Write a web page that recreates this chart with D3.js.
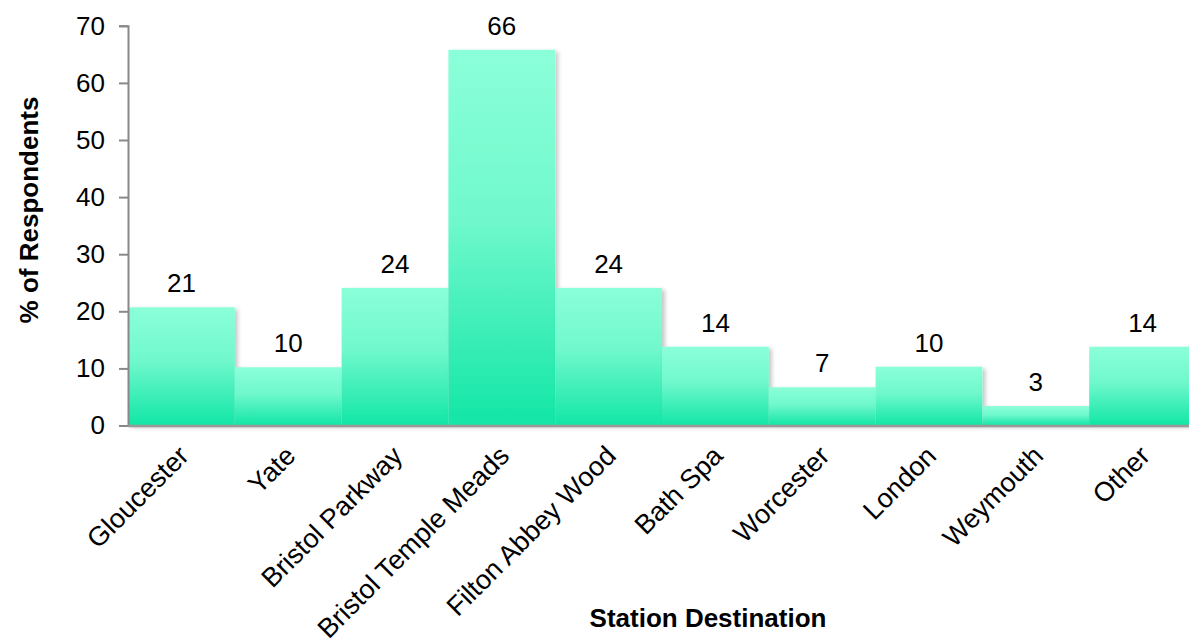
<!DOCTYPE html>
<html>
<head>
<meta charset="utf-8">
<script src="https://cdn.jsdelivr.net/npm/d3@7"></script>
<style>
  html, body { margin: 0; padding: 0; background: #fff; }
  svg { display: block; font-family: "Liberation Sans", Arial, sans-serif; }
</style>
</head>
<body>
<svg id="chart" width="1189" height="644"></svg>
<script>
// Station destinations and share of respondents (%)
const stations = ["Gloucester", "Yate", "Bristol Parkway", "Bristol Temple Meads",
  "Filton Abbey Wood", "Bath Spa", "Worcester", "London", "Weymouth", "Other"];
const percents = [20.7, 10.2, 24.1, 65.8, 24.1, 13.8, 6.7, 10.3, 3.4, 13.8];
const yTicks = [0, 10, 20, 30, 40, 50, 60, 70];

const svg = d3.select("#chart");
const plotLeft = 128, plotRight = 1196, plotTop = 25.8, plotBottom = 425.5;
const fontSize = 26;

const x = d3.scaleBand().domain(stations).range([plotLeft, plotRight]).padding(0);
const y = d3.scaleLinear().domain([0, 70]).range([plotBottom, plotTop]);

const defs = svg.append("defs");
const grad = defs.append("linearGradient")
  .attr("id", "barFill").attr("x1", 0).attr("y1", 0).attr("x2", 0).attr("y2", 1);
grad.append("stop").attr("offset", "0%").attr("stop-color", "#8bffd9");
grad.append("stop").attr("offset", "45%").attr("stop-color", "#70f8cc");
grad.append("stop").attr("offset", "100%").attr("stop-color", "#12e6a6");

const shadow = defs.append("filter").attr("id", "shade")
  .attr("x", "-10%").attr("y", "-10%").attr("width", "130%").attr("height", "130%");
shadow.append("feDropShadow").attr("dx", 3).attr("dy", 2).attr("stdDeviation", 2)
  .attr("flood-color", "#000").attr("flood-opacity", 0.22);

// bars
svg.append("g").selectAll("rect")
  .data(stations)
  .join("rect")
  .attr("x", d => x(d))
  .attr("y", (d, i) => y(percents[i]))
  .attr("width", x.bandwidth())
  .attr("height", (d, i) => y(0) - y(percents[i]))
  .attr("fill", "url(#barFill)")
  .attr("filter", "url(#shade)");

// value labels
svg.append("g").selectAll("text")
  .data(stations)
  .join("text")
  .attr("x", d => x(d) + x.bandwidth() / 2)
  .attr("y", (d, i) => y(percents[i]) - 15)
  .attr("text-anchor", "middle")
  .attr("font-size", fontSize)
  .attr("fill", "#000")
  .text((d, i) => d3.format(".0f")(percents[i]));

// y axis
const yAxis = svg.append("g")
  .attr("transform", `translate(${plotLeft},0)`)
  .call(d3.axisLeft(y).tickValues(yTicks).tickSize(9).tickPadding(14));
yAxis.select(".domain").attr("stroke", "#888").attr("stroke-width", 2);
yAxis.selectAll(".tick line").attr("stroke", "#888").attr("stroke-width", 2);
yAxis.selectAll(".tick text")
  .attr("font-size", fontSize).attr("fill", "#000")
  .attr("font-family", "Liberation Sans, Arial, sans-serif");

// x axis line and rotated station names
const xAxis = svg.append("g")
  .attr("transform", `translate(0,${plotBottom})`)
  .call(d3.axisBottom(x).tickSize(0).tickPadding(0));
xAxis.select(".domain").attr("stroke", "#999").attr("stroke-width", 2.5);
xAxis.selectAll(".tick text")
  .attr("font-size", 27).attr("fill", "#000")
  .attr("font-family", "Liberation Sans, Arial, sans-serif")
  .attr("text-anchor", "end")
  .attr("dy", 0)
  .attr("y", 0)
  .attr("transform", "translate(9,32) rotate(-45)");

// axis titles
svg.append("text")
  .attr("x", 708)
  .attr("y", 627)
  .attr("text-anchor", "middle")
  .attr("font-size", 26).attr("font-weight", "bold")
  .text("Station Destination");

svg.append("text")
  .attr("transform", `translate(38,210) rotate(-90)`)
  .attr("text-anchor", "middle")
  .attr("font-size", 26).attr("font-weight", "bold")
  .text("% of Respondents");
</script>
</body>
</html>
